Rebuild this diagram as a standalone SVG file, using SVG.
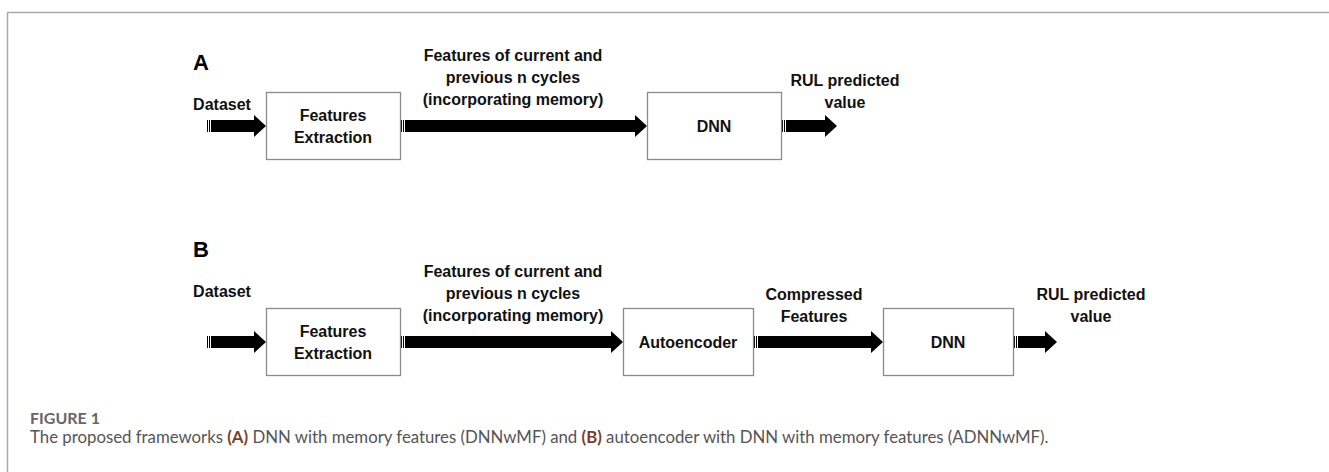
<svg xmlns="http://www.w3.org/2000/svg" width="1329" height="472" viewBox="0 0 1329 472">
<style>
.frame{fill:none;stroke:#aaaaaa;stroke-width:1.5}
.box{fill:#ffffff;stroke:#8a8a8a;stroke-width:1.3}
.arr{fill:#000000}
.t{font-family:"Liberation Sans",Arial,sans-serif;font-weight:bold;font-size:16px;fill:#111111;text-anchor:middle}
.big{font-family:"Liberation Sans",Arial,sans-serif;font-weight:bold;font-size:22px;fill:#000000}
.cap1{font-family:Lato,"Open Sans",sans-serif;font-weight:bold;font-size:16px;fill:#666666}
.cap2{font-family:Lato,"Open Sans",sans-serif;font-size:16.8px;fill:#555555}
.capb{font-weight:bold;fill:#7a3d2a}
</style>
<rect width="1329" height="472" fill="#ffffff"/>
<path class="frame" d="M7.5,472 V12.5 H1329"/>

<text class="big" x="193" y="70">A</text>
<text class="big" x="193" y="257">B</text>

<g id="connectors">
  <g id="a1">
    <rect class="arr" x="207" y="120" width="1" height="12"/>
    <rect class="arr" x="209" y="120" width="1" height="12"/>
    <path class="arr" d="M211,120 H254 V115 L266,126 L254,137 V132 H211 Z"/>
  </g>
  <g id="a2">
    <rect class="arr" x="401" y="120" width="1" height="12"/>
    <rect class="arr" x="403" y="120" width="1" height="12"/>
    <path class="arr" d="M405,120 H635 V115 L647,126 L635,137 V132 H405 Z"/>
  </g>
  <g id="a3">
    <rect class="arr" x="782" y="120" width="1" height="12"/>
    <rect class="arr" x="784" y="120" width="1" height="12"/>
    <path class="arr" d="M786,120 H825 V115 L837,126 L825,137 V132 H786 Z"/>
  </g>
  <g id="b1">
    <rect class="arr" x="207" y="336" width="1" height="12"/>
    <rect class="arr" x="209" y="336" width="1" height="12"/>
    <path class="arr" d="M211,336 H254 V331 L266,342 L254,353 V348 H211 Z"/>
  </g>
  <g id="b2">
    <rect class="arr" x="401" y="336" width="1" height="12"/>
    <rect class="arr" x="403" y="336" width="1" height="12"/>
    <path class="arr" d="M405,336 H611 V331 L623,342 L611,353 V348 H405 Z"/>
  </g>
  <g id="b3">
    <rect class="arr" x="754" y="336" width="1" height="12"/>
    <rect class="arr" x="756" y="336" width="1" height="12"/>
    <path class="arr" d="M758,336 H871 V331 L883,342 L871,353 V348 H758 Z"/>
  </g>
  <g id="b4">
    <rect class="arr" x="1014" y="336" width="1" height="12"/>
    <rect class="arr" x="1016" y="336" width="1" height="12"/>
    <path class="arr" d="M1018,336 H1045 V331 L1057,342 L1045,353 V348 H1018 Z"/>
  </g>
</g>

<g id="labels">
  <text class="t" x="222" y="110">Dataset</text>
  <text class="t" x="513" y="61">Features of current and</text>
  <text class="t" x="513" y="83">previous n cycles</text>
  <text class="t" x="513" y="105">(incorporating memory)</text>
  <text class="t" x="845" y="86">RUL predicted</text>
  <text class="t" x="845" y="108">value</text>

  <text class="t" x="222" y="297">Dataset</text>
  <text class="t" x="513" y="277">Features of current and</text>
  <text class="t" x="513" y="299">previous n cycles</text>
  <text class="t" x="513" y="321">(incorporating memory)</text>
  <text class="t" x="814" y="300">Compressed</text>
  <text class="t" x="814" y="322">Features</text>
  <text class="t" x="1091" y="300">RUL predicted</text>
  <text class="t" x="1091" y="322">value</text>
</g>

<g id="fe_a">
  <rect class="box" x="266.5" y="92.5" width="134" height="67"/>
  <text class="t" x="333" y="121">Features</text>
  <text class="t" x="333" y="143">Extraction</text>
</g>
<g id="dnn_a">
  <rect class="box" x="647.5" y="92.5" width="134" height="67"/>
  <text class="t" x="714" y="132">DNN</text>
</g>
<g id="fe_b">
  <rect class="box" x="266.5" y="308.5" width="134" height="67"/>
  <text class="t" x="333" y="337">Features</text>
  <text class="t" x="333" y="359">Extraction</text>
</g>
<g id="autoencoder_b">
  <rect class="box" x="623.5" y="308.5" width="130" height="67"/>
  <text class="t" x="688" y="348">Autoencoder</text>
</g>
<g id="dnn_b">
  <rect class="box" x="883.5" y="308.5" width="130" height="67"/>
  <text class="t" x="948" y="348">DNN</text>
</g>

<g id="caption">
  <text class="cap1" x="30" y="424">FIGURE 1</text>
  <text class="cap2" x="30" y="443">The proposed frameworks <tspan class="capb">(A)</tspan> DNN with memory features (DNNwMF) and <tspan class="capb">(B)</tspan> autoencoder with DNN with memory features (ADNNwMF).</text>
</g>
</svg>
